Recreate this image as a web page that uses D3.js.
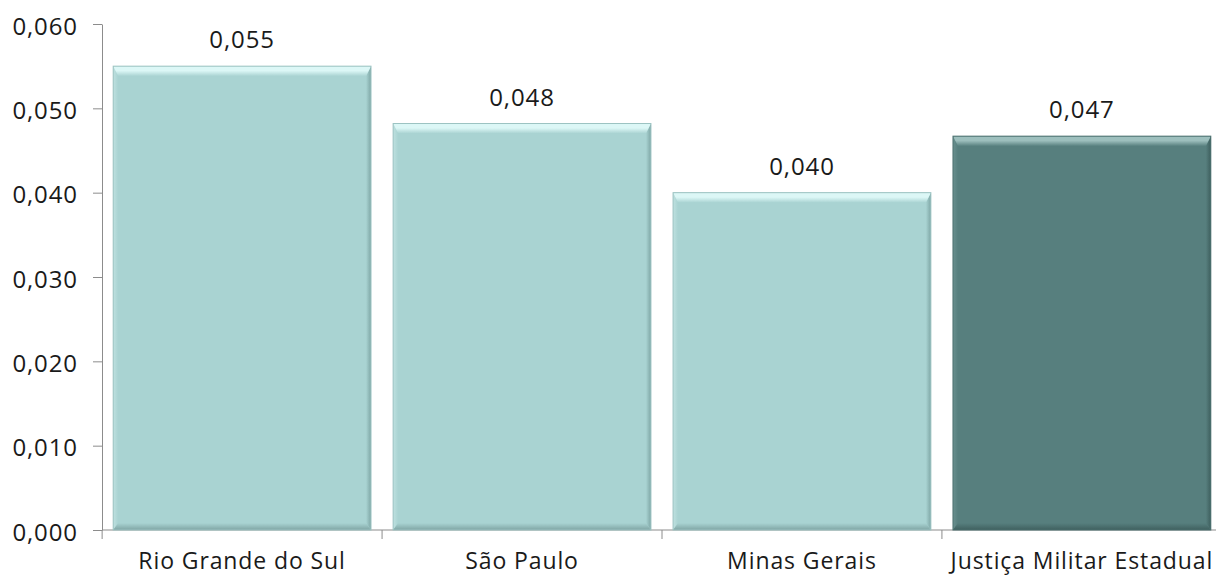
<!DOCTYPE html>
<html>
<head>
<meta charset="utf-8">
<script src="https://cdn.jsdelivr.net/npm/d3@7"></script>
<style>
  html, body { margin: 0; padding: 0; background: #fff; }
  svg { display: block; }
  text { font-family: "Open Sans", "Noto Sans", sans-serif; fill: #1a1a1a; letter-spacing: 0.9px; }
</style>
</head>
<body>
<svg id="chart" width="1216" height="576"></svg>
<script>
const categories = ["Rio Grande do Sul", "São Paulo", "Minas Gerais", "Justiça Militar Estadual"];
const values = [0.0550, 0.0482, 0.0400, 0.0467];
const highlighted = [false, false, false, true];
const yTicks = [0, 0.01, 0.02, 0.03, 0.04, 0.05, 0.06];

const svg = d3.select("#chart");
const plotLeft = 102, plotRight = 1222, plotTop = 24, plotBottom = 530;

const x = d3.scaleBand().domain(categories).range([plotLeft, plotRight]).paddingInner(0.079).paddingOuter(0.04);
const y = d3.scaleLinear().domain([0, 0.06]).range([plotBottom, plotTop]);
const fmt = v => d3.format(".3f")(v).replace(".", ",");

const palette = {
  light: { base: "#a9d3d2", hi: "#dcf7f6", leftE: "#bfe1e0", rightE: "#7ea6a5", bottomE: "#7fa5a4", line: "#9cc3c2" },
  dark:  { base: "#577f7e", hi: "#9dbfbd", leftE: "#6a908f", rightE: "#3e5f5e", bottomE: "#3f605f", line: "#4a6f6e" }
};

// gradients for the bevelled edges
const defs = svg.append("defs");
Object.entries(palette).forEach(([key, col]) => {
  const gTop = defs.append("linearGradient").attr("id", `top-${key}`).attr("x1", 0).attr("y1", 0).attr("x2", 0).attr("y2", 1);
  gTop.append("stop").attr("offset", "0%").attr("stop-color", col.hi);
  gTop.append("stop").attr("offset", "45%").attr("stop-color", col.hi);
  gTop.append("stop").attr("offset", "100%").attr("stop-color", col.base);
  const gBot = defs.append("linearGradient").attr("id", `bot-${key}`).attr("x1", 0).attr("y1", 0).attr("x2", 0).attr("y2", 1);
  gBot.append("stop").attr("offset", "0%").attr("stop-color", col.base);
  gBot.append("stop").attr("offset", "100%").attr("stop-color", col.bottomE);
  const gRight = defs.append("linearGradient").attr("id", `right-${key}`).attr("x1", 0).attr("y1", 0).attr("x2", 1).attr("y2", 0);
  gRight.append("stop").attr("offset", "0%").attr("stop-color", col.base);
  gRight.append("stop").attr("offset", "100%").attr("stop-color", col.rightE);
  const gLeft = defs.append("linearGradient").attr("id", `left-${key}`).attr("x1", 0).attr("y1", 0).attr("x2", 1).attr("y2", 0);
  gLeft.append("stop").attr("offset", "0%").attr("stop-color", col.leftE);
  gLeft.append("stop").attr("offset", "100%").attr("stop-color", col.base);
});

// y axis
const yAxis = d3.axisLeft(y).tickValues(yTicks).tickSize(9).tickSizeOuter(0).tickPadding(15).tickFormat(fmt);
const gy = svg.append("g").attr("transform", `translate(${plotLeft},0)`).call(yAxis);
gy.selectAll("path, line").attr("stroke", "#8c8c8c");
gy.selectAll("text").style("font-size", "24px").attr("fill", "#1a1a1a").attr("dy", "0.42em");

// x axis with ticks at band boundaries
const gx = svg.append("g").attr("transform", `translate(0,${plotBottom})`);
gx.append("line").attr("x1", plotLeft).attr("x2", plotRight).attr("stroke", "#8c8c8c");
const bounds = categories.map(c => x(c) - x.step() * x.paddingInner() / 2).concat([plotRight]);
gx.selectAll("line.tick").data(bounds).join("line").attr("class", "tick")
  .attr("x1", d => d).attr("x2", d => d).attr("y1", 0).attr("y2", 9).attr("stroke", "#8c8c8c");
gx.selectAll("text").data(categories).join("text")
  .attr("x", d => x(d) + x.bandwidth() / 2).attr("y", 39)
  .attr("text-anchor", "middle").style("font-size", "23px").text(d => d);

// bevelled bars
const bt = 10, bs = 5, bb = 7;
const bars = svg.append("g").selectAll("g").data(categories).join("g");
bars.each(function (c, i) {
  const g = d3.select(this);
  const key = highlighted[i] ? "dark" : "light";
  const col = palette[key];
  const x0 = x(c), x1 = x(c) + x.bandwidth(), y0 = y(values[i]), y1 = y(0);
  g.append("rect").attr("x", x0).attr("y", y0).attr("width", x1 - x0).attr("height", y1 - y0).attr("fill", col.base);
  const poly = (pts, fill) => g.append("polygon").attr("points", pts.map(p => p.join(",")).join(" ")).attr("fill", fill);
  poly([[x0, y0], [x0 + bs, y0 + bt], [x0 + bs, y1 - bb], [x0, y1]], `url(#left-${key})`);
  poly([[x1, y0], [x1, y1], [x1 - bs, y1 - bb], [x1 - bs, y0 + bt]], `url(#right-${key})`);
  poly([[x0, y1], [x1, y1], [x1 - bs, y1 - bb], [x0 + bs, y1 - bb]], `url(#bot-${key})`);
  poly([[x0, y0], [x1, y0], [x1 - bs, y0 + bt], [x0 + bs, y0 + bt]], `url(#top-${key})`);
  g.append("rect").attr("x", x0).attr("y", y0).attr("width", x1 - x0).attr("height", y1 - y0)
    .attr("fill", "none").attr("stroke", col.line).attr("stroke-width", 1);
  g.append("text").attr("x", (x0 + x1) / 2).attr("y", y0 - 18)
    .attr("text-anchor", "middle").style("font-size", "24px").text(fmt(values[i]));
});
</script>
</body>
</html>
